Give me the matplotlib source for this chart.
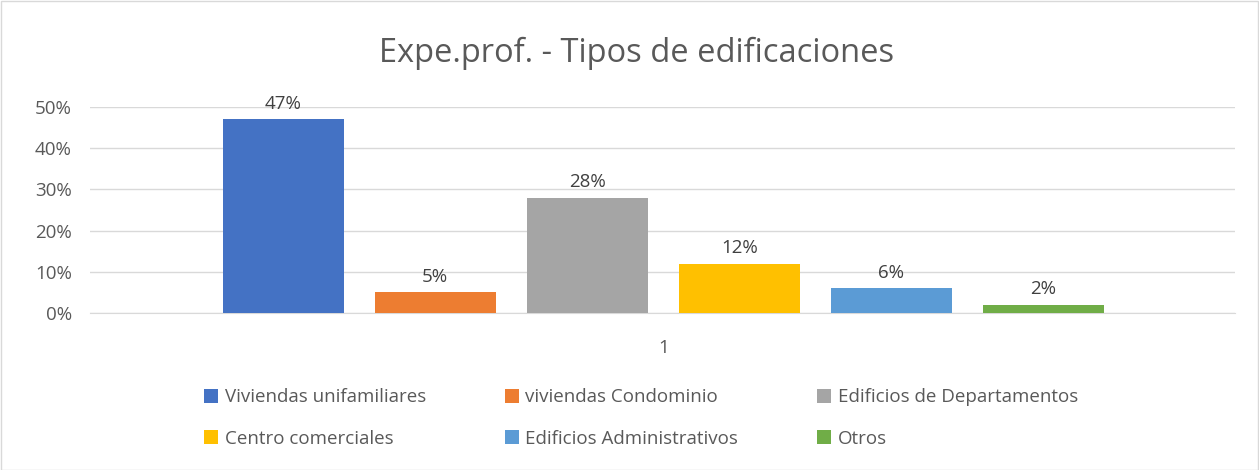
import matplotlib
matplotlib.use("Agg")
import matplotlib.pyplot as plt
from matplotlib.patches import Rectangle
from matplotlib.ticker import PercentFormatter

series = ["Viviendas unifamiliares", "viviendas Condominio", "Edificios de Departamentos",
          "Centro comerciales", "Edificios Administrativos", "Otros"]
values = [0.47, 0.05, 0.28, 0.12, 0.06, 0.02]
labels = ["47%", "5%", "28%", "12%", "6%", "2%"]
colors = ["#4472C4", "#ED7D31", "#A5A5A5", "#FFC000", "#5B9BD5", "#70AD47"]
category = "1"
yticks = [0, 0.1, 0.2, 0.3, 0.4, 0.5]

plt.rcParams['font.family'] = ['Open Sans', 'DejaVu Sans']
W, H = 1259, 470
fig = plt.figure(figsize=(W/100, H/100), dpi=100)
ax = fig.add_axes([90/W, (H-313)/H, (1235-90)/W, (313-107)/H])

handles = []
for i, (s, v, c, lab) in enumerate(zip(series, values, colors, labels)):
    x = i - 2.5
    b = ax.bar(x, v, width=0.795, color=c, label=s, zorder=3)
    handles.append(b)
    ax.text(x, v + 0.016, lab, ha='center', va='bottom', fontsize=13.5, color='#404040')

ax.set_xlim(-3.77, 3.76)
ax.set_ylim(0, 0.5)
ax.set_yticks(yticks)
ax.yaxis.set_major_formatter(PercentFormatter(1.0, decimals=0))
ax.set_xticks([0])
ax.set_xticklabels([category])
ax.tick_params(axis='both', length=0, labelsize=13.5, colors='#595959')
ax.tick_params(axis='x', pad=19)
ax.tick_params(axis='y', pad=13)
ax.grid(axis='y', color='#d9d9d9', linewidth=1, zorder=0)
for sp in ['top', 'right', 'left']:
    ax.spines[sp].set_visible(False)
ax.spines['bottom'].set_color('#d9d9d9')

fig.text(637/W, 1 - 53/H, "Expe.prof. - Tipos de edificaciones", ha='center', va='center',
         fontsize=23.5, color='#595959')

order = [0, 3, 1, 4, 2, 5]
leg = fig.legend([handles[i] for i in order], [series[i] for i in order], ncol=3,
                 loc='center', bbox_to_anchor=(641/W, 1 - 418/H), frameon=False,
                 fontsize=13.5, handlelength=0.75, handleheight=0.75, handletextpad=0.35,
                 columnspacing=4.2, labelspacing=1.25, labelcolor='#595959')

fig.patches.append(Rectangle((0.5/W, 0.5/H), 1 - 1.5/W, 1 - 1.5/H, transform=fig.transFigure,
                             fill=False, edgecolor='#d9d9d9', linewidth=1))
fig.savefig("out.png", dpi=100)
